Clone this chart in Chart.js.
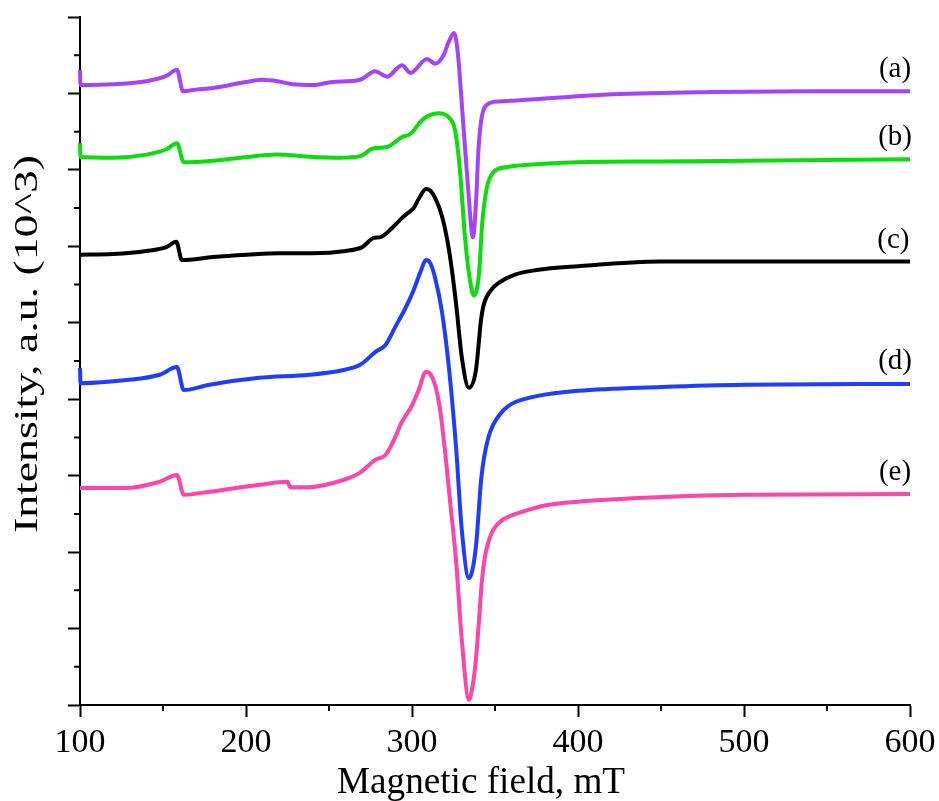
<!DOCTYPE html>
<html>
<head>
<meta charset="utf-8">
<script src="https://cdn.jsdelivr.net/npm/chart.js@4"></script>
<style>
  body { margin: 0; background: #fff; }
  #wrap { width: 939px; height: 801px; }
</style>
</head>
<body>
<div id="wrap"><canvas id="epr"></canvas></div>
<script>
// EPR spectra, values (intensity in 10^3 a.u., offset per trace)
const fieldA = [100, 100.3, 120, 140, 152, 158.4, 162, 170, 180, 200, 210, 219, 228, 240, 252, 268.7, 277.7, 285, 294, 299, 309, 314, 319, 322, 325.3, 327.6, 330.7, 333.7, 336.7, 338.5, 340, 341.5, 343, 345, 349, 357, 365, 421, 481, 541, 600];
const intensityA = [8.31, 8.11, 8.12, 8.16, 8.23, 8.31, 8.03, 8.05, 8.07, 8.15, 8.18, 8.16, 8.12, 8.11, 8.15, 8.18, 8.29, 8.22, 8.37, 8.27, 8.45, 8.39, 8.50, 8.67, 8.79, 8.53, 7.65, 6.78, 6.12, 6.55, 7.25, 7.62, 7.78, 7.85, 7.89, 7.90, 7.91, 7.99, 8.02, 8.03, 8.03];

const fieldB = [100, 100.3, 120, 140, 152, 158.4, 162.5, 180, 200.6, 218, 240, 256.6, 268.7, 276.5, 284.9, 294, 299, 306, 310, 316, 322, 325.9, 328.9, 331.9, 334.9, 337.3, 340.4, 342.2, 343.7, 345.2, 347, 350, 358.4, 380, 400, 450, 500, 600];
const intensityB = [7.35, 7.17, 7.16, 7.20, 7.27, 7.35, 7.10, 7.12, 7.17, 7.20, 7.17, 7.16, 7.18, 7.28, 7.30, 7.43, 7.47, 7.65, 7.71, 7.74, 7.69, 7.52, 6.99, 6.12, 5.56, 5.36, 5.65, 6.28, 6.58, 6.78, 6.90, 6.99, 7.04, 7.08, 7.10, 7.11, 7.12, 7.14];

const fieldC = [100, 120, 140, 152, 158, 161.4, 180, 200.6, 220, 240, 260, 270, 277, 281, 288, 292.5, 297.7, 301, 304, 308.4, 311, 314, 318, 322.3, 326.5, 330, 334.3, 338.5, 341.6, 343, 345, 348, 352, 362, 375, 400, 450, 500, 600];
const intensityC = [5.89, 5.90, 5.94, 5.99, 6.06, 5.82, 5.86, 5.89, 5.91, 5.91, 5.94, 5.99, 6.11, 6.12, 6.24, 6.34, 6.44, 6.50, 6.62, 6.75, 6.73, 6.63, 6.40, 5.95, 5.26, 4.55, 4.15, 4.38, 5.04, 5.22, 5.34, 5.44, 5.52, 5.63, 5.69, 5.74, 5.80, 5.80, 5.80];

const fieldD = [100, 100.3, 128, 148, 158.4, 162.5, 178, 208, 238, 258, 268.7, 278, 284, 290, 296, 301, 305, 308.4, 311, 314, 318, 322.3, 326.5, 330, 334.3, 338.5, 341.6, 343.5, 346, 349, 354, 358, 362, 375, 400, 450, 500, 600];
const intensityD = [4.41, 4.21, 4.25, 4.32, 4.42, 4.12, 4.19, 4.28, 4.32, 4.38, 4.45, 4.62, 4.71, 4.95, 5.19, 5.43, 5.66, 5.82, 5.78, 5.58, 5.15, 4.40, 3.38, 2.29, 1.66, 2.07, 2.94, 3.25, 3.50, 3.67, 3.83, 3.91, 3.96, 4.04, 4.11, 4.16, 4.19, 4.20];

const fieldE = [100, 128, 148, 158.4, 162.5, 178, 208, 225, 226.5, 238, 258, 268.7, 278, 284, 290, 293.5, 299.5, 304, 308.4, 311, 314, 317, 320, 323, 326.5, 330, 334.3, 336.5, 338.5, 340.5, 342, 344, 346, 348, 351, 355, 360, 368, 380, 400, 450, 500, 600];
const intensityE = [2.84, 2.84, 2.92, 3.01, 2.75, 2.79, 2.88, 2.92, 2.85, 2.85, 2.94, 3.04, 3.21, 3.27, 3.51, 3.69, 3.90, 4.12, 4.36, 4.33, 4.18, 3.85, 3.30, 2.65, 1.90, 0.85, 0.07, 0.25, 0.60, 1.15, 1.60, 1.95, 2.13, 2.25, 2.35, 2.43, 2.48, 2.54, 2.61, 2.66, 2.72, 2.75, 2.76];

const seriesNames = ['(a)', '(b)', '(c)', '(d)', '(e)'];
const labelField = [591, 591, 590, 591, 591];
const labelIntensity = [8.31, 7.42, 6.08, 4.50, 3.04];

const xTicks = [100, 200, 300, 400, 500, 600];

const serif = "'Liberation Serif', 'Times New Roman', serif";
const colors = ['#a443fb', '#0bdc0b', '#000000', '#1f3cff', '#ff44aa'];

function toPoints(xs, ys) {
  return xs.map((x, i) => ({ x: x, y: ys[i] }));
}

const traces = [
  toPoints(fieldA, intensityA),
  toPoints(fieldB, intensityB),
  toPoints(fieldC, intensityC),
  toPoints(fieldD, intensityD),
  toPoints(fieldE, intensityE)
];

// stretched text, the original axis titles are set wide
function wideText(ctx, text, cx, cy, width, rot) {
  ctx.save();
  ctx.translate(cx, cy);
  ctx.rotate(rot);
  const w = ctx.measureText(text).width;
  ctx.scale(width / w, 1);
  ctx.fillText(text, 0, 0);
  ctx.restore();
}

// minor ticks, axis titles and the (a)..(e) tags
const extras = {
  id: 'extras',
  afterDraw(chart) {
    const { ctx, scales: { x, y } } = chart;
    ctx.save();
    ctx.strokeStyle = '#000';
    ctx.lineWidth = 2;
    ctx.beginPath();
    for (let v = 150; v < 600; v += 100) {
      const px = x.getPixelForValue(v);
      ctx.moveTo(px, y.bottom);
      ctx.lineTo(px, y.bottom + 6);
    }
    for (let v = 0.5; v < 9; v += 1) {
      const py = y.getPixelForValue(v);
      ctx.moveTo(x.left, py);
      ctx.lineTo(x.left - 6, py);
    }
    ctx.stroke();

    ctx.fillStyle = '#000';
    ctx.textAlign = 'center';
    ctx.font = '37px ' + serif;
    ctx.textBaseline = 'alphabetic';
    wideText(ctx, 'Magnetic field, mT', 481, 793, 288, 0);
    ctx.font = '34px ' + serif;
    ctx.textBaseline = 'middle';
    wideText(ctx, 'Intensity, a.u. (10^3)', 28, 344, 378, -Math.PI / 2);

    ctx.font = '29px ' + serif;
    seriesNames.forEach((name, i) => {
      ctx.fillText(name, x.getPixelForValue(labelField[i]), y.getPixelForValue(labelIntensity[i]));
    });
    ctx.restore();
  }
};

new Chart(document.getElementById('epr'), {
  type: 'line',
  data: {
    datasets: traces.map((pts, i) => ({
      label: seriesNames[i],
      data: pts,
      borderColor: colors[i],
      borderWidth: 4,
      pointRadius: 0,
      fill: false,
      cubicInterpolationMode: 'monotone',
      clip: false
    }))
  },
  options: {
    responsive: true,
    maintainAspectRatio: false,
    animation: false,
    layout: { padding: { top: 17, right: 29, left: 0, bottom: 0 } },
    plugins: { legend: { display: false }, tooltip: { enabled: false } },
    scales: {
      x: {
        type: 'linear',
        min: 100,
        max: 600,
        afterBuildTicks: (scale) => { scale.ticks = xTicks.map(v => ({ value: v })); },
        afterFit: (scale) => {
          scale.height = 96;
          scale.paddingLeft = 0;
          scale.paddingRight = 0;
        },
        ticks: { color: '#000', font: { family: serif, size: 34 }, padding: 6, maxRotation: 0 },
        grid: { drawOnChartArea: false, drawTicks: true, tickLength: 12, tickWidth: 2, tickColor: '#000' },
        border: { display: true, color: '#000', width: 2 }
      },
      y: {
        type: 'linear',
        min: 0,
        max: 9,
        ticks: { display: false, stepSize: 1 },
        afterFit: (scale) => { scale.width = 80; },
        grid: { drawOnChartArea: false, drawTicks: true, tickLength: 12, tickWidth: 2, tickColor: '#000' },
        border: { display: true, color: '#000', width: 2 }
      }
    }
  },
  plugins: [extras]
});
</script>
</body>
</html>
